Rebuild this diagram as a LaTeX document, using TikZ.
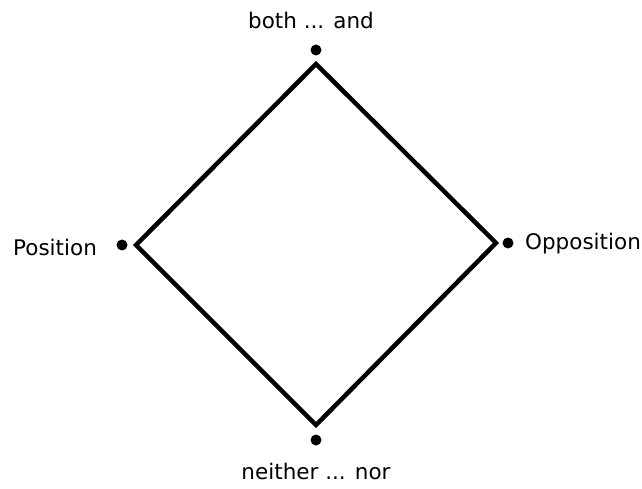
\documentclass[tikz,border=0pt]{standalone}
\usepackage{fontspec}
\setmainfont{DejaVu Sans}
\usetikzlibrary{calc}

\tikzset{
  dot/.style={circle, fill=black, inner sep=0pt, minimum size=11pt},
  word/.style={font=\fontsize{21.5}{25}\selectfont, inner sep=0pt}
}

\begin{document}
\begin{tikzpicture}[x=1pt, y=1pt, line width=4.5pt]
  \useasboundingbox (0,0) rectangle (642,488);
  \coordinate (T) at (316,424);
  \coordinate (L) at (136,243);
  \coordinate (R) at (496,245);
  \coordinate (B) at (316,63);
  \draw[line join=miter] (T) -- (R) -- (B) -- (L) -- cycle;
  \node[dot] (dt) at (316,438) {};
  \node[dot] (dl) at (122,243) {};
  \node[dot] (dr) at (508,245) {};
  \node[dot] (db) at (316,48) {};
  \node[word] (both) at (311,468) {both ... and};
  \node[word] (pos) at (55,241) {Position};
  \node[word] (opp) at (583,244) {Opposition};
  \node[word] (neither) at (316,17) {neither ... nor};
\end{tikzpicture}
\end{document}
